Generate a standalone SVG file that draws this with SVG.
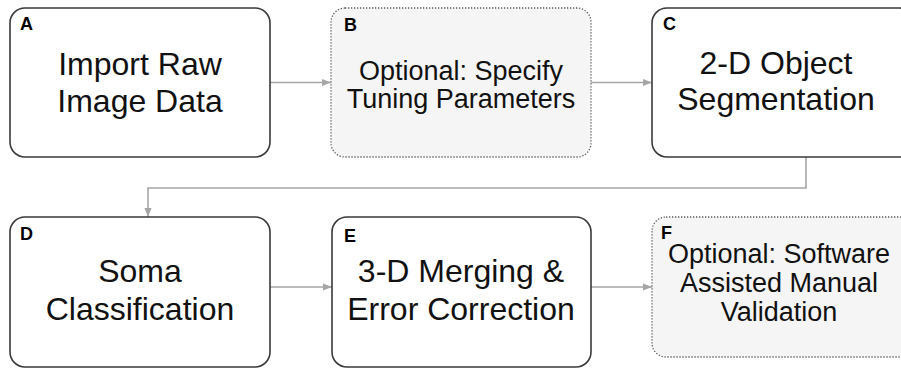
<svg xmlns="http://www.w3.org/2000/svg" width="901" height="369" viewBox="0 0 901 369">
<defs>
<marker id="arr" markerWidth="10" markerHeight="8" refX="9" refY="4" orient="auto" markerUnits="userSpaceOnUse">
<path d="M0,0.5 L9,4 L0,7.5 Z" fill="#a6a6a6"/>
</marker>
</defs>
<style>
.solid{fill:#ffffff;stroke:#3a3a3a;stroke-width:1.6}
.opt{fill:#f5f5f5;stroke:#5a5a5a;stroke-width:1.3;stroke-dasharray:1.3 1.7}
.big{font-family:"Liberation Sans",Arial,sans-serif;font-size:32px;fill:#111;text-anchor:middle}
.mid{font-family:"Liberation Sans",Arial,sans-serif;font-size:27px;fill:#111;text-anchor:middle}
.lab{font-family:"Liberation Sans",Arial,sans-serif;font-size:18px;font-weight:bold;fill:#000}
.con{fill:none;stroke:#a6a6a6;stroke-width:1.6}
</style>
<rect width="901" height="369" fill="#ffffff"/>
<g id="connectors">
<path class="con" d="M270,82.5 L331,82.5" marker-end="url(#arr)"/>
<path class="con" d="M591,82.5 L652,82.5" marker-end="url(#arr)"/>
<path class="con" d="M806,157 L806,188 L148,188 L148,217" marker-end="url(#arr)"/>
<path class="con" d="M270,287 L332,287" marker-end="url(#arr)"/>
<path class="con" d="M591,287 L652,287" marker-end="url(#arr)"/>
</g>
<g id="nodeA">
<rect class="solid" x="10" y="8" width="260" height="149" rx="15"/>
<text class="lab" x="20" y="30">A</text>
<text class="big" x="140" y="75">Import Raw</text>
<text class="big" x="140" y="112">Image Data</text>
</g>
<g id="nodeB">
<rect class="opt" x="331" y="8" width="260" height="149" rx="14"/>
<text class="lab" x="344" y="31">B</text>
<text class="mid" x="461" y="80">Optional: Specify</text>
<text class="mid" x="461" y="108">Tuning Parameters</text>
</g>
<g id="nodeC">
<rect class="solid" x="652" y="8" width="262" height="149" rx="15"/>
<text class="lab" x="663" y="30">C</text>
<text class="big" x="776" y="74">2-D Object</text>
<text class="big" x="776" y="110">Segmentation</text>
</g>
<g id="nodeD">
<rect class="solid" x="10" y="217" width="260" height="150" rx="15"/>
<text class="lab" x="20" y="240">D</text>
<text class="big" x="140" y="282">Soma</text>
<text class="big" x="140" y="320">Classification</text>
</g>
<g id="nodeE">
<rect class="solid" x="332" y="217" width="259" height="150" rx="15"/>
<text class="lab" x="344" y="242">E</text>
<text class="big" x="461" y="282">3-D Merging &amp;</text>
<text class="big" x="461" y="320">Error Correction</text>
</g>
<g id="nodeF">
<rect class="opt" x="652" y="217" width="262" height="140" rx="14"/>
<text class="lab" x="661" y="239">F</text>
<text class="mid" x="779" y="263">Optional: Software</text>
<text class="mid" x="779" y="292">Assisted Manual</text>
<text class="mid" x="779" y="321">Validation</text>
</g>
</svg>
